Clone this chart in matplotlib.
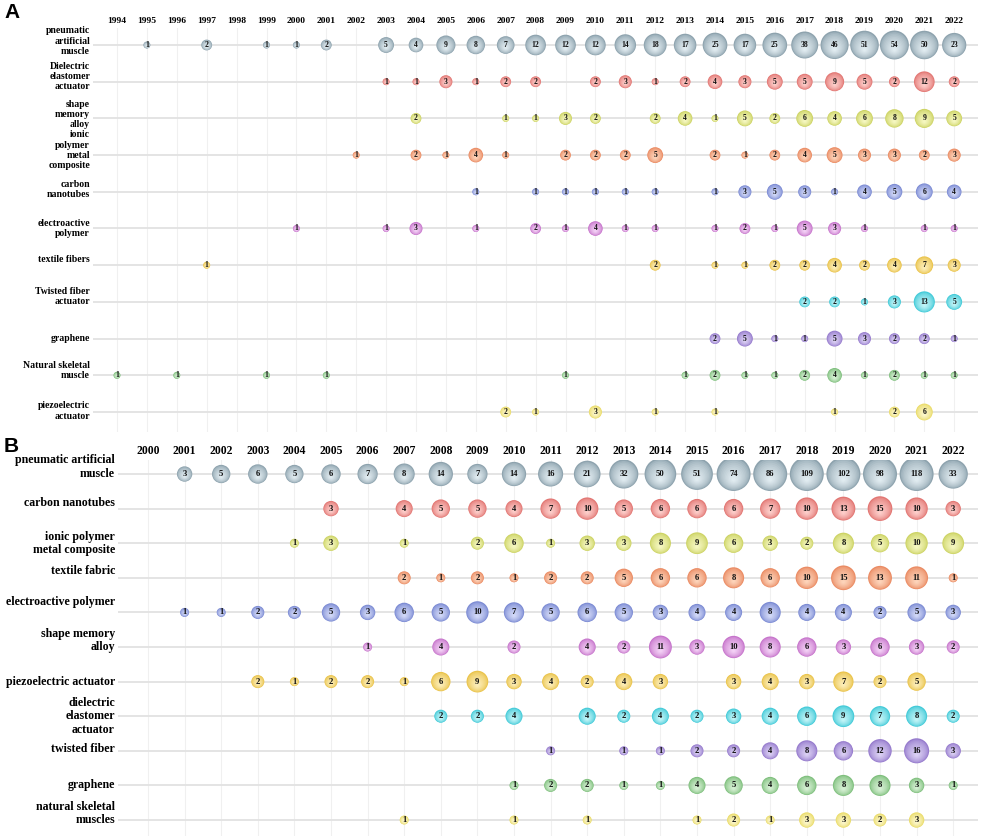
import numpy as np
import matplotlib.pyplot as plt
from matplotlib.colors import to_rgb
from matplotlib.transforms import blended_transform_factory, offset_copy

# ---- panel A data (0 = no paper that year) ----
years_a = [1994, 1995, 1996, 1997, 1998, 1999, 2000, 2001, 2002, 2003, 2004, 2005, 2006, 2007,
           2008, 2009, 2010, 2011, 2012, 2013, 2014, 2015, 2016, 2017, 2018, 2019, 2020, 2021, 2022]
labels_a = ["pneumatic\nartificial\nmuscle", "Dielectric\nelastomer\nactuator", "shape\nmemory\nalloy",
            "ionic\npolymer\nmetal\ncomposite", "carbon\nnanotubes", "electroactive\npolymer",
            "textile fibers", "Twisted fiber\nactuator", "graphene", "Natural skeletal\nmuscle",
            "piezoelectric\nactuator"]
pneumatic_a = [0, 1, 0, 2, 0, 1, 1, 2, 0, 5, 4, 9, 8, 7, 12, 12, 12, 14, 18, 17, 25, 17, 25, 38, 46, 51, 54, 50, 23]
dielectric_a = [0] * 9 + [1, 1, 3, 1, 2, 2, 0, 2, 3, 1, 2, 4, 3, 5, 5, 9, 5, 2, 12, 2]
sma_a = [0] * 10 + [2, 0, 0, 1, 1, 3, 2, 0, 2, 4, 1, 5, 2, 6, 4, 6, 8, 9, 5]
ipmc_a = [0] * 8 + [1, 0, 2, 1, 4, 1, 0, 2, 2, 2, 5, 0, 2, 1, 2, 4, 5, 3, 3, 2, 3]
cnt_a = [0] * 12 + [1, 0, 1, 1, 1, 1, 1, 0, 1, 3, 5, 3, 1, 4, 5, 6, 4]
eap_a = [0] * 6 + [1, 0, 0, 1, 3, 0, 1, 0, 2, 1, 4, 1, 1, 0, 1, 2, 1, 5, 3, 1, 0, 1, 1]
textile_a = [0, 0, 0, 1] + [0] * 14 + [2, 0, 1, 1, 2, 2, 4, 2, 4, 7, 3]
twisted_a = [0] * 23 + [2, 2, 1, 3, 13, 5]
graphene_a = [0] * 20 + [2, 5, 1, 1, 5, 3, 2, 2, 1]
natural_a = [1, 0, 1, 0, 0, 1, 0, 1] + [0] * 7 + [1] + [0] * 3 + [1, 2, 1, 1, 2, 4, 1, 2, 1, 1]
piezo_a = [0] * 13 + [2, 1, 0, 3, 0, 1, 0, 1, 0, 0, 0, 1, 0, 2, 6, 0]
counts_a = [pneumatic_a, dielectric_a, sma_a, ipmc_a, cnt_a, eap_a,
            textile_a, twisted_a, graphene_a, natural_a, piezo_a]

# ---- panel B data ----
years_b = [2000, 2001, 2002, 2003, 2004, 2005, 2006, 2007, 2008, 2009, 2010, 2011,
           2012, 2013, 2014, 2015, 2016, 2017, 2018, 2019, 2020, 2021, 2022]
labels_b = ["pneumatic artificial\nmuscle", "carbon nanotubes", "ionic polymer\nmetal composite",
            "textile fabric", "electroactive polymer", "shape memory\nalloy", "piezoelectric actuator",
            "dielectric\nelastomer\nactuator", "twisted fiber", "graphene", "natural skeletal\nmuscles"]
pneumatic_b = [0, 3, 5, 6, 5, 6, 7, 8, 14, 7, 14, 16, 21, 32, 50, 51, 74, 86, 109, 102, 98, 118, 33]
cnt_b = [0] * 5 + [3, 0, 4, 5, 5, 4, 7, 10, 5, 6, 6, 6, 7, 10, 13, 15, 10, 3]
ipmc_b = [0] * 4 + [1, 3, 0, 1, 0, 2, 6, 1, 3, 3, 8, 9, 6, 3, 2, 8, 5, 10, 9]
textile_b = [0] * 7 + [2, 1, 2, 1, 2, 2, 5, 6, 6, 8, 6, 10, 15, 13, 11, 1]
eap_b = [0, 1, 1, 2, 2, 5, 3, 6, 5, 10, 7, 5, 6, 5, 3, 4, 4, 8, 4, 4, 2, 5, 3]
sma_b = [0] * 6 + [1, 0, 4, 0, 2, 0, 4, 2, 11, 3, 10, 8, 6, 3, 6, 3, 2]
piezo_b = [0, 0, 0] + [2, 1, 2, 2, 1, 6, 9, 3, 4, 2, 4, 3, 0, 3, 4, 3, 7, 2, 5, 0]
dielectric_b = [0] * 8 + [2, 2, 4, 0, 4, 2, 4, 2, 3, 4, 6, 9, 7, 8, 2]
twisted_b = [0] * 11 + [1, 0, 1, 1, 2, 2, 4, 8, 6, 12, 16, 3]
graphene_b = [0] * 10 + [1, 2, 2, 1, 1, 4, 5, 4, 6, 8, 8, 3, 1]
natural_b = [0] * 7 + [1, 0, 0, 1, 0, 1, 0, 0, 1, 2, 1, 3, 3, 2, 3, 0]
counts_b = [pneumatic_b, cnt_b, ipmc_b, textile_b, eap_b, sma_b,
            piezo_b, dielectric_b, twisted_b, graphene_b, natural_b]

# edge / centre colours, same order in both panels
edge_cols = ["#8ea3ae", "#e27673", "#cdd364", "#ea8b63", "#7b8ad3", "#c674cb",
             "#eac34a", "#42cad8", "#967bcd", "#7fbf7d", "#eadb68"]
core_cols = ["#e0ebf0", "#fdcdc9", "#f5f7c0", "#fdd3b9", "#d1d8f7", "#f3cff5",
             "#fcedb7", "#c0f4f7", "#dacff3", "#d5f0d3", "#fcf7cb"]
# how far (px) each row label sits above its line
lift_a = [4, 5, 4, 5, 2.5, 0, 6, 5, 0, 5, 1]
lift_b = [7, 6, 0, 7, 10, 6.5, 0, 0, 2, 0, 6.5]

SERIF = "Liberation Serif"
W, H = 982, 836
fig = plt.figure(figsize=(W / 100, H / 100), dpi=100)
fig.patch.set_facecolor("white")


def draw_panel(rect_px, x0, xstep, y0, ystep, years, labels, counts, lifts,
               d0, dk, dmax, fs_tick, fs_lab, fs_num, lab_space):
    left, top, right, bottom = rect_px
    ax = fig.add_axes([left / W, 1 - bottom / H, (right - left) / W, (bottom - top) / H])
    ax.set_xlim((left - x0) / xstep, (right - x0) / xstep)
    ax.set_ylim((bottom - y0) / ystep, (top - y0) / ystep)
    for s in ax.spines.values():
        s.set_visible(False)

    nx = len(years)
    for i in range(nx):
        ax.axvline(i, color="#f0f0f0", lw=0.8, zorder=0)
    for j in range(len(labels)):
        ax.axhline(j, color="#e2e2e2", lw=1.3, zorder=0)

    ax.xaxis.tick_top()
    ax.set_xticks(range(nx))
    ax.set_xticklabels([str(y) for y in years], fontsize=fs_tick, fontweight="bold", family=SERIF)
    ax.set_yticks([])
    ax.tick_params(length=0, pad=2)

    base = blended_transform_factory(ax.transAxes, ax.transData)
    for j, lab in enumerate(labels):
        tr = offset_copy(base, fig=fig, x=-3, y=lifts[j], units="dots")
        ax.text(0, j, lab, transform=tr, ha="right", va="center", multialignment="right",
                fontsize=fs_lab, fontweight="bold", family=SERIF, linespacing=lab_space)

    n_layers = 12
    for j, row in enumerate(counts):
        vals = np.array(row, dtype=float)
        xs = np.nonzero(vals)[0]
        vs = vals[xs]
        if len(xs) == 0:
            continue
        d = np.minimum(d0 + dk * np.log(vs), dmax)  # diameter in px
        e = np.array(to_rgb(edge_cols[j]))
        c = np.array(to_rgb(core_cols[j]))
        for k in range(n_layers):
            t = k / (n_layers - 1)
            frac = 1 - 0.88 * t
            col = e + (c - e) * t ** 0.6
            dy = 0.16 * d * t / ystep
            ax.scatter(xs, j + dy, s=(d * frac * 0.72) ** 2, color=col,
                       linewidths=0, zorder=2 + k * 0.01)
        for x, v in zip(xs, vs):
            ax.text(x, j, str(int(v)), ha="center", va="center", fontsize=fs_num,
                    fontweight="bold", family=SERIF, color="#111111", zorder=5)
    return ax


draw_panel((93, 28, 978, 432), 117, 29.9, 45, 36.7, years_a, labels_a, counts_a, lift_a,
           7, 5.5, 29, 6.8, 7.0, 5.5, 1.17)
draw_panel((118, 460, 978, 836), 148, 36.6, 474, 34.6, years_b, labels_b, counts_b, lift_b,
           9, 5.8, 34, 8.4, 8.6, 6.2, 1.15)

fig.text(4 / W, 1 - 13 / H, "A", fontsize=15, fontweight="bold", family="Liberation Sans", va="center")
fig.text(4 / W, 1 - 447 / H, "B", fontsize=15, fontweight="bold", family="Liberation Sans", va="center")

fig.savefig("out.png", dpi=100, facecolor="white")
